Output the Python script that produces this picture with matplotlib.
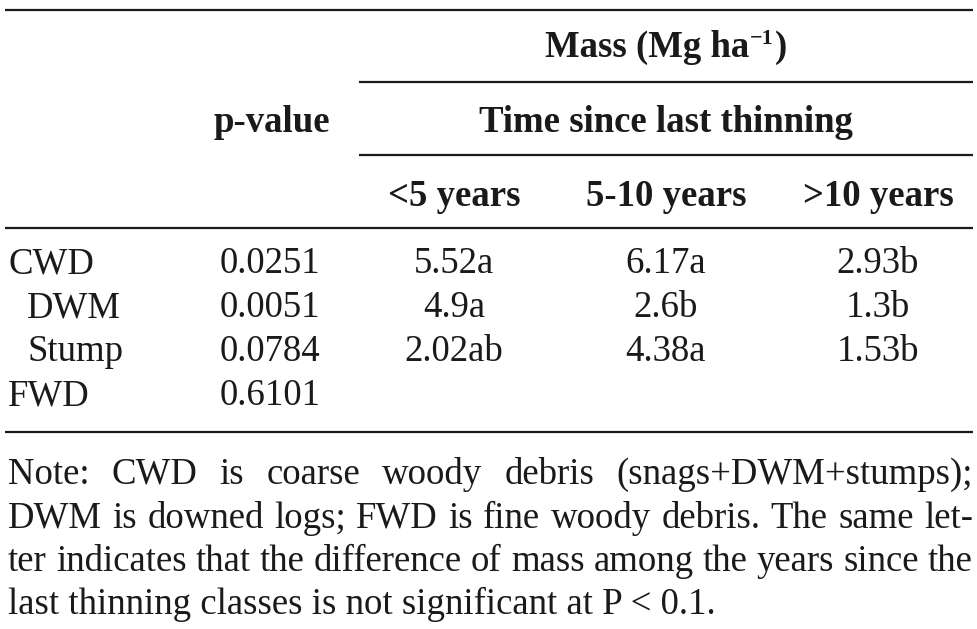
import matplotlib
matplotlib.use("Agg")
import matplotlib.pyplot as plt

# ---- data ----
row_labels = ["CWD", "DWM", "Stump", "FWD"]
row_indent = [False, True, True, False]
p_values = ["0.0251", "0.0051", "0.0784", "0.6101"]
col_labels = ["<5 years", "5-10 years", ">10 years"]
lt5 = ["5.52a", "4.9a", "2.02ab", ""]
y5_10 = ["6.17a", "2.6b", "4.38a", ""]
gt10 = ["2.93b", "1.3b", "1.53b", ""]
header_top = "Mass (Mg ha"
header_sup = "\u22121"
header_mid = "Time since last thinning"
header_p = "p-value"
note_lines = [
    "Note: CWD is coarse woody debris (snags+DWM+stumps);",
    "DWM is downed logs; FWD is fine woody debris. The same let-",
    "ter indicates that the difference of mass among the years since the",
    "last thinning classes is not significant at P < 0.1.",
]

W, H = 978, 629
fig = plt.figure(figsize=(W / 100, H / 100), dpi=100)
ax = fig.add_axes([0, 0, 1, 1])
ax.set_xlim(0, W)
ax.set_ylim(H, 0)
ax.axis("off")

FONT = "Liberation Serif"
FS = 26.5
renderer = fig.canvas.get_renderer()

def width_px(t):
    bb = t.get_window_extent(renderer)
    return bb.width

# rules
lw = 1.6
rc = "#1a1a1a"
ax.plot([5, 973], [10, 10], color=rc, lw=lw, solid_capstyle="butt")
ax.plot([359, 973], [82, 82], color=rc, lw=lw, solid_capstyle="butt")
ax.plot([359, 973], [155, 155], color=rc, lw=lw, solid_capstyle="butt")
ax.plot([5, 973], [228, 228], color=rc, lw=lw, solid_capstyle="butt")
ax.plot([5, 973], [432, 432], color=rc, lw=lw, solid_capstyle="butt")

txtc = "#1a1a1a"

# header "Mass (Mg ha^-1)"
mass_cx = 666
t1 = ax.text(0, 57, header_top, fontsize=FS, fontfamily=FONT, fontweight="bold",
             va="baseline", ha="left", color=txtc)
t2 = ax.text(0, 44, header_sup, fontsize=FS * 0.6, fontfamily=FONT, fontweight="bold",
             va="baseline", ha="left", color=txtc)
t3 = ax.text(0, 57, ")", fontsize=FS, fontfamily=FONT, fontweight="bold",
             va="baseline", ha="left", color=txtc)
w1, w2, w3 = width_px(t1), width_px(t2), width_px(t3)
x0 = mass_cx - (w1 + w2 + w3 + 1) / 2
t1.set_x(x0)
t2.set_x(x0 + w1 + 0.5)
t3.set_x(x0 + w1 + w2 + 1)

ax.text(272, 132, header_p, fontsize=FS, fontfamily=FONT, fontweight="bold",
        va="baseline", ha="center", color=txtc)
ax.text(666, 132, header_mid, fontsize=FS, fontfamily=FONT, fontweight="bold",
        va="baseline", ha="center", color=txtc)

col_x = [454, 666, 878]
for cx, lab in zip(col_x, col_labels):
    ax.text(cx, 206, lab, fontsize=FS, fontfamily=FONT, fontweight="bold",
            va="baseline", ha="center", color=txtc)

# body
row_y0, row_dy = 273, 44
cols = [lt5, y5_10, gt10]
for i, lab in enumerate(row_labels):
    y = row_y0 + i * row_dy
    ax.text(27 if row_indent[i] else 8, y, lab, fontsize=FS, fontfamily=FONT,
            va="baseline", ha="left", color=txtc)
    ax.text(270, y, p_values[i], fontsize=FS, fontfamily=FONT,
            va="baseline", ha="center", color=txtc)
    for cx, col in zip(col_x, cols):
        if col[i]:
            ax.text(cx, y, col[i], fontsize=FS, fontfamily=FONT,
                    va="baseline", ha="center", color=txtc)

# note (justified)
note_x0, note_x1 = 8, 973
note_y0, note_dy = 484, 43.5
for li, line in enumerate(note_lines):
    y = note_y0 + li * note_dy
    if li == len(note_lines) - 1:
        ax.text(note_x0, y, line, fontsize=FS, fontfamily=FONT,
                va="baseline", ha="left", color=txtc)
        continue
    words = line.split(" ")
    ts = [ax.text(0, y, w, fontsize=FS, fontfamily=FONT, va="baseline",
                  ha="left", color=txtc) for w in words]
    ws = [width_px(t) for t in ts]
    gap = (note_x1 - note_x0 - sum(ws)) / (len(words) - 1)
    x = note_x0
    for t, w in zip(ts, ws):
        t.set_x(x)
        x += w + gap

fig.savefig("out.png", dpi=100, facecolor="white")
